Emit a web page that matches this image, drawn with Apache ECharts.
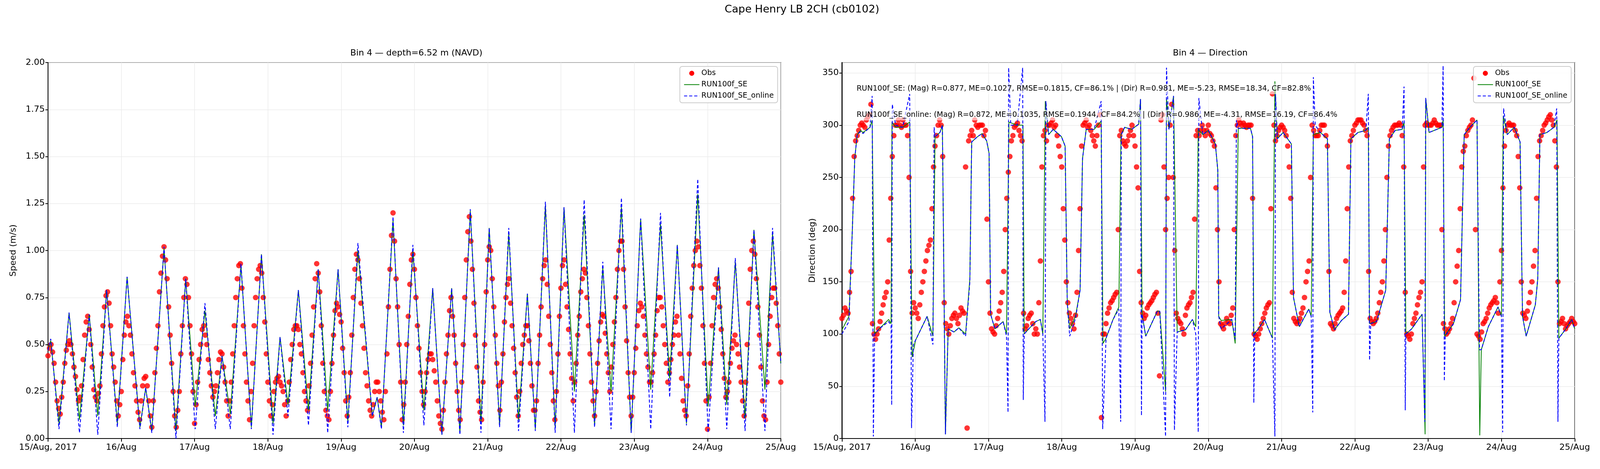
<!DOCTYPE html>
<html>
<head>
<meta charset="utf-8">
<script src="https://cdn.jsdelivr.net/npm/echarts@6/dist/echarts.min.js"></script>
<style>
  html, body { margin: 0; padding: 0; background: #fff; overflow: hidden; }
</style>
</head>
<body>
<div id="chart"></div>
<script>
// hours since 15/Aug 2017 00:00
const dayLabels = ['15/Aug, 2017', '16/Aug', '17/Aug', '18/Aug', '19/Aug', '20/Aug', '21/Aug', '22/Aug', '23/Aug', '24/Aug', '25/Aug'];

const obsSpeed = [
  0.44,0.5,0.4,0.2,0.13,0.3,0.47,0.52,0.45,0.33,0.2,0.28,0.55,0.65,0.5,0.26,0.2,0.28,0.6,0.76,0.72,0.45,0.3,0.12,
  0.25,0.55,0.65,0.55,0.35,0.2,0.1,0.28,0.33,0.2,0.06,0.35,0.6,0.88,1.02,0.85,0.55,0.25,0.06,0.25,0.6,0.85,0.75,0.45,
  0.08,0.3,0.5,0.6,0.5,0.35,0.22,0.28,0.42,0.45,0.3,0.12,0.3,0.6,0.85,0.93,0.6,0.3,0.1,0.4,0.75,0.9,0.88,0.62,
  0.3,0.12,0.25,0.32,0.3,0.25,0.12,0.3,0.5,0.6,0.58,0.45,0.25,0.15,0.4,0.7,0.93,0.78,0.4,0.15,0.1,0.4,0.68,0.7,
  0.62,0.35,0.12,0.35,0.75,0.98,0.85,0.6,0.35,0.2,0.12,0.25,0.3,0.2,0.1,0.45,0.9,1.2,0.85,0.5,0.1,0.3,0.65,0.95,
  0.9,0.6,0.35,0.18,0.35,0.45,0.42,0.3,0.12,0.05,0.3,0.55,0.75,0.55,0.25,0.1,0.5,0.95,1.18,0.9,0.55,0.2,0.1,0.5,
  0.95,1.0,0.7,0.4,0.15,0.45,0.75,0.85,0.6,0.35,0.12,0.4,0.55,0.6,0.4,0.15,0.2,0.55,0.85,0.95,0.65,0.35,0.1,0.45,
  0.8,0.95,0.7,0.45,0.2,0.4,0.65,0.85,0.88,0.6,0.3,0.12,0.4,0.62,0.65,0.45,0.25,0.5,0.75,1.0,1.05,0.7,0.35,0.12,
  0.35,0.6,0.72,0.65,0.45,0.3,0.35,0.55,0.75,0.7,0.5,0.3,0.42,0.55,0.65,0.45,0.2,0.12,0.45,0.8,1.0,1.02,0.8,0.4,
  0.05,0.4,0.75,0.85,0.7,0.45,0.22,0.3,0.48,0.55,0.45,0.3,0.12,0.5,0.9,1.05,0.85,0.55,0.2,0.1,0.5,0.75,0.8,0.6,0.3
];

// half-hour readings (t = i + 0.5)
const obsSpeedHalf = [
  0.48,0.46,0.3,0.16,0.22,0.4,0.5,0.5,0.38,0.26,0.22,0.42,0.62,0.58,0.38,0.22,0.24,0.45,0.7,0.78,0.6,0.38,0.2,0.18,
  0.42,0.62,0.6,0.45,0.28,0.14,0.2,0.32,0.28,0.12,0.2,0.48,0.78,0.97,0.95,0.7,0.4,0.12,0.15,0.45,0.75,0.82,0.6,0.25,
  0.18,0.42,0.58,0.55,0.42,0.28,0.25,0.35,0.46,0.38,0.2,0.2,0.45,0.75,0.92,0.8,0.45,0.2,0.25,0.6,0.85,0.92,0.75,0.45,
  0.2,0.18,0.3,0.33,0.28,0.18,0.2,0.42,0.58,0.6,0.5,0.35,0.2,0.28,0.55,0.85,0.88,0.6,0.25,0.12,0.25,0.55,0.72,0.66,
  0.48,0.2,0.22,0.55,0.9,0.95,0.72,0.48,0.28,0.15,0.18,0.3,0.25,0.14,0.25,0.7,1.08,1.05,0.7,0.3,0.18,0.5,0.82,0.98,
  0.75,0.48,0.25,0.25,0.42,0.45,0.36,0.2,0.08,0.15,0.45,0.68,0.65,0.4,0.15,0.3,0.75,1.1,1.05,0.72,0.38,0.14,0.3,0.78,
  1.02,0.85,0.55,0.28,0.3,0.62,0.82,0.72,0.48,0.22,0.25,0.5,0.6,0.52,0.28,0.15,0.4,0.7,0.92,0.82,0.5,0.2,0.25,0.65,
  0.92,0.82,0.58,0.32,0.3,0.55,0.78,0.9,0.75,0.45,0.2,0.25,0.52,0.66,0.56,0.35,0.38,0.62,0.9,1.05,0.9,0.52,0.22,0.22,
  0.48,0.68,0.7,0.55,0.38,0.3,0.45,0.68,0.75,0.6,0.4,0.35,0.5,0.62,0.55,0.32,0.15,0.28,0.65,0.92,1.05,0.92,0.6,0.2,
  0.22,0.6,0.82,0.8,0.58,0.32,0.25,0.4,0.52,0.5,0.38,0.2,0.3,0.72,1.0,0.98,0.7,0.38,0.12,0.3,0.65,0.8,0.72,0.45
];

const speedSE = [
  [0,.47],[0.9,.52],[3.6,.08],[6.9,.67],[10.3,.1],[13.5,.66],[16.3,.12],[19.2,.79],[22.7,.08],[25.9,.86],
  [30.1,.06],[32,.27],[34,.04],[38,1.01],[41.9,.04],[45.1,.85],[48.2,.17],[51.4,.68],[54.8,.12],[57,.44],
  [59.7,.13],[63.2,.92],[66.6,.06],[69.9,.98],[73.7,.08],[76,.54],[78.6,.18],[82,.79],[85.3,.15],[88.5,.9],
  [91.6,.15],[95,.9],[98.2,.09],[101.5,1.0],[106.2,.12],[107.8,.22],[109.2,.06],[113,1.16],[116.4,.07],[119.5,1.0],
  [123.1,.15],[126,.8],[129,.02],[132.2,.8],[134.9,.03],[138.3,1.21],[141.8,.09],[144.5,1.12],[147.9,.07],[150.9,1.09],
  [154.1,.1],[157,.77],[159.6,.05],[162.9,1.24],[166.1,.06],[169,1.23],[172.4,.25],[175.6,1.19],[179,.07],[181.7,.91],
  [184.4,.25],[187.8,1.23],[191,.03],[194.1,1.17],[197.4,.26],[200.6,1.14],[203.6,.32],[206.1,1.03],[209.1,.08],[212.8,1.3],
  [216.2,.17],[219.6,.91],[222.3,.18],[225.1,.94],[228.3,.11],[231.2,1.11],[234.8,.26],[237.3,1.09],[240,.4]
];

const speedOnline = [
  [0,.47],[0.9,.53],[3.6,.05],[6.9,.67],[10.3,.03],[13.5,.66],[16.3,.02],[19.2,.79],[22.7,.06],[25.9,.86],
  [30.1,.05],[32,.27],[34,.03],[38,1.02],[41.9,0],[45.1,.85],[48.2,.05],[51.4,.72],[54.8,.05],[57,.44],
  [59.7,.05],[63.2,.93],[66.6,.05],[69.9,.98],[73.7,.02],[76,.54],[78.6,.12],[82,.79],[85.3,.07],[88.5,.9],
  [91.6,.03],[95,.9],[98.2,.06],[101.5,1.04],[106.2,.12],[107.8,.22],[109.2,.05],[113,1.18],[116.4,.03],[119.5,1.03],
  [123.1,.07],[126,.8],[129,.02],[132.2,.8],[134.9,.02],[138.3,1.22],[141.8,.03],[144.5,1.12],[147.9,.06],[150.9,1.12],
  [154.1,.04],[157,.77],[159.6,.04],[162.9,1.26],[166.1,.03],[169,1.23],[172.4,.03],[175.6,1.27],[179,.06],[181.7,.94],
  [184.4,.05],[187.8,1.28],[191,.03],[194.1,1.17],[197.4,.05],[200.6,1.2],[203.6,.22],[206.1,1.03],[209.1,.07],[212.8,1.38],
  [216.2,.03],[219.6,.91],[222.3,.05],[225.1,.96],[228.3,.04],[231.2,1.11],[234.8,.04],[237.3,1.12],[240,.4]
];

const obsDir = [
  115,125,120,160,270,290,300,300,305,310,110,95,105,120,135,150,230,290,300,300,305,300,250,120,
  125,115,140,160,180,190,260,290,305,270,110,100,115,120,110,125,120,10,290,290,300,300,300,295,
  150,105,100,115,130,160,230,270,290,300,295,285,105,115,120,100,100,170,290,285,300,305,300,280,
  260,190,130,115,105,140,220,300,305,300,290,280,300,20,100,120,130,135,140,290,285,280,290,300,
  280,240,130,115,125,130,135,140,60,310,200,250,320,180,115,110,100,125,130,140,290,290,300,290,
  300,290,280,200,110,105,115,110,125,290,305,300,300,300,300,100,95,105,115,125,130,330,285,295,
  300,295,280,230,115,110,115,125,150,170,300,290,290,300,300,280,110,105,115,120,125,170,260,290,
  300,305,305,300,290,115,110,115,130,150,200,280,295,300,300,300,260,100,95,110,120,135,150,300,
  300,300,305,300,300,110,100,105,115,150,180,260,280,295,300,345,100,95,110,115,125,130,135,120,
  180,280,300,300,300,290,240,120,115,130,150,180,270,290,300,305,310,300,260,110,115,105,110,115,110
];

// half-hour readings (t = i + 0.5)
const obsDirHalf = [
  118,122,140,230,285,295,302,298,308,320,100,100,112,128,140,190,270,300,305,298,300,290,160,130,
  120,128,150,170,185,220,280,300,300,130,105,108,118,115,118,122,260,285,295,305,298,300,290,210,
  120,102,108,122,140,200,255,285,298,302,290,120,108,118,110,105,130,260,295,300,302,298,290,270,
  220,150,120,110,118,180,280,302,298,295,285,290,310,100,110,125,132,138,200,295,282,285,295,290,
  260,160,120,118,128,132,138,120,305,260,230,300,250,120,112,105,118,128,135,210,295,295,295,295,
  292,285,240,150,108,110,112,118,200,300,302,302,298,300,230,98,100,110,120,128,220,300,290,298,
  298,290,260,140,112,112,120,135,160,250,295,290,295,300,290,160,108,110,118,122,140,220,285,295,
  302,305,302,295,160,112,112,120,140,170,250,290,298,300,302,290,140,98,100,115,128,140,260,302,
  300,302,302,300,200,105,102,110,130,165,220,275,290,298,305,200,98,102,112,120,128,132,130,150,
  240,295,302,300,295,270,150,118,122,140,165,230,285,295,302,308,305,285,150,112,110,108,112,112
];

const dirSE = [
  [0,104],[2.3,117],[3.4,199],[4.2,268],[5,291],[6.1,295],[6.9,293],[9.2,298],[9.9,305],[10.7,100],[12.2,105],[15.3,114],[16.1,110],
  [16.4,303],[17.6,298],[19.9,298],[22.2,303],[23,78],[24.1,94],[27.9,117],[29.8,98],[30.5,289],[32.1,293],[32.9,300],[33.9,4],
  [34.8,105],[36.7,102],[38.3,106],[40.5,100],[41.9,153],[42.5,284],[44.4,289],[45.9,292],[47.4,285],[48.2,273],[48.7,119],[50.1,105],
  [52.8,112],[53.9,100],[54.7,303],[57.4,300],[59.3,300],[59.7,100],[61.2,105],[63.5,112],[65,114],[65.8,100],[66.6,323],[67.7,291],
  [69.2,296],[71.9,289],[73.1,280],[73.8,130],[74.6,105],[76.5,117],[78,142],[78.8,268],[80,296],[82.6,296],[84.9,304],[85.5,91],
  [86.5,96],[88.8,114],[90.7,126],[91.4,291],[92.6,298],[94.9,296],[97.2,301],[97.8,325],[98.3,119],[99.5,98],[103.3,122],[104.1,122],
  [106,45],[106.3,326],[107.1,296],[108.6,328],[109.8,102],[112.5,104],[114.8,114],[115.9,107],[116.7,296],[118.2,291],[120,295],
  [122.3,282],[123.1,257],[123.4,117],[124.2,113],[127.7,114],[128.8,91],[129.8,297],[133.8,297],[134.5,289],[134.9,100],[136.4,105],
  [138.4,114],[141,96],[141.8,342],[142.6,287],[144.5,293],[147.2,282],[147.9,135],[149.8,107],[152.9,124],[153.7,117],[154.4,291],
  [156.7,293],[159,287],[159.8,121],[161.3,104],[163.6,113],[165.9,119],[166.7,287],[169,293],[171.6,295],[172.4,298],[172.8,110],
  [175.1,112],[178.1,142],[179.3,287],[181.2,295],[183.5,296],[184.1,303],[184.7,100],[186.6,105],[190,119],[191,4],[191.2,326],
  [192.3,293],[196.5,298],[196.9,305],[197.4,98],[200.3,110],[202.6,133],[203.8,291],[205.7,298],[208,305],[208.9,3],[209.4,85],
  [211.7,107],[214.9,126],[216,117],[216.6,309],[217.9,291],[220.2,298],[222.1,284],[222.9,117],[224.1,98],[227.1,128],[227.9,153],
  [228.6,291],[230.9,293],[233.2,298],[234.2,305],[234.8,96],[237.1,105],[239,114],[240,105]
];

const dirOnline = [
  [0,100],[2.3,112],[3.4,199],[4.2,268],[5,291],[6.1,294],[6.9,292],[9.2,298],[9.9,328],[10.3,2],[10.7,100],[12.2,105],[15.3,112],
  [16.1,108],[16.3,32],[16.5,320],[17.6,300],[19.9,298],[22.2,330],[22.8,10],[23.4,90],[24.1,94],[27.9,117],[29.8,90],[30.2,298],
  [30.5,289],[32.1,293],[32.9,300],[33.9,4],[34.8,105],[36.7,102],[38.3,106],[40.5,98],[41.9,150],[42.5,284],[44.4,289],[45.9,292],
  [47.4,285],[48.2,273],[48.7,119],[50.1,105],[52.8,112],[53.9,98],[54.4,25],[54.6,355],[55.3,300],[57.4,300],[59.2,355],[59.4,37],
  [59.7,100],[61.2,105],[63.5,112],[65,114],[65.8,100],[66.5,16],[66.8,323],[67.7,291],[69.2,296],[71.9,289],[73.1,280],[73.8,130],
  [74.6,98],[76.5,115],[78,142],[78.8,268],[80,296],[82.6,296],[84.9,323],[85.4,9],[86.5,96],[88.8,114],[90.7,124],[91.3,16],
  [91.5,291],[92.6,298],[94.9,296],[97.2,301],[97.8,325],[98.1,22],[98.3,119],[99.5,98],[103.3,122],[104.1,122],[106,2],[106.3,355],
  [107.1,296],[108.6,328],[108.9,8],[109.8,102],[112.5,104],[114.8,114],[115.9,100],[116.7,6],[116.9,326],[118.2,291],[120,295],
  [122.3,282],[123.1,257],[123.4,117],[124.2,105],[127.7,114],[128.8,95],[129.2,305],[129.8,297],[133.8,297],[134.5,289],[134.9,34],
  [135.2,100],[136.4,105],[138.4,114],[141,96],[141.8,2],[142,330],[142.6,287],[144.5,293],[147.2,282],[147.9,135],[149.8,107],
  [152.9,124],[153.7,117],[154.2,25],[154.4,346],[155,300],[156.7,293],[159,287],[159.8,121],[161.3,104],[163.6,113],[165.9,119],
  [166.7,287],[169,293],[171.6,295],[172.4,330],[172.8,75],[173.2,110],[175.1,112],[178.1,142],[179.3,287],[181.2,295],[183.5,296],
  [184.1,337],[184.5,27],[184.7,100],[186.6,105],[190,119],[190.9,16],[191.2,326],[192.3,293],[196.5,298],[196.9,357],[197.3,55],
  [197.6,98],[200.3,110],[202.6,133],[203.8,291],[205.7,298],[208,305],[208.8,85],[209.4,85],[211.7,107],[214.9,126],[216,117],
  [216.4,6],[216.7,316],[217.9,291],[220.2,298],[222.1,284],[222.9,117],[224.1,98],[227.1,128],[227.9,153],[228.6,291],[230.9,293],
  [233.2,298],[234.1,316],[234.5,16],[234.8,96],[237.1,105],[239,114],[240,105]
];

const statsLines = [
  'RUN100f_SE: (Mag) R=0.877, ME=0.1027, RMSE=0.1815, CF=86.1% | (Dir) R=0.981, ME=-5.23, RMSE=18.34, CF=82.8%',
  'RUN100f_SE_online: (Mag) R=0.872, ME=0.1035, RMSE=0.1944, CF=84.2% | (Dir) R=0.986, ME=-4.31, RMSE=16.19, CF=86.4%'
];

const FONT = 'DejaVu Sans';
// layout measured on a 5000x1200 canvas; stretch it to fill the real window
const W = window.innerWidth, H = window.innerHeight;
const SX = W / 5000, SY = H / 1200;
const px = v => v * SX;   // horizontal sizes
const py = v => v * SY;   // vertical sizes
const pf = v => v * SY;   // font / mark sizes
const el = document.getElementById('chart');
el.style.width = W + 'px';
el.style.height = H + 'px';

const obsPts = (arr, off) => arr.map((v, i) => [i + off, v]);

function xAxisFor(gi) {
  return {
    type: 'value', gridIndex: gi, min: 0, max: 240, interval: 24,
    axisLine: { show: true, lineStyle: { color: '#000', width: pf(2) } },
    axisTick: { show: true, length: py(8), lineStyle: { color: '#000', width: pf(2) } },
    axisLabel: { fontFamily: FONT, fontSize: pf(22), color: '#000', margin: py(12),
      formatter: v => dayLabels[Math.round(v / 24)] },
    splitLine: { show: true, lineStyle: { color: '#ebebeb', width: pf(1.5) } }
  };
}

function yAxisFor(gi, min, max, interval, name, fmt, gap) {
  return {
    type: 'value', gridIndex: gi, min, max, interval,
    name, nameLocation: 'middle', nameGap: px(gap),
    nameTextStyle: { fontFamily: FONT, fontSize: pf(22), color: '#000' },
    axisLine: { show: true, lineStyle: { color: '#000', width: pf(2) } },
    axisTick: { show: true, length: px(8), lineStyle: { color: '#000', width: pf(2) } },
    axisLabel: { fontFamily: FONT, fontSize: pf(22), color: '#000', margin: px(10), formatter: fmt, showMaxLabel: max === 2 },
    splitLine: { show: true, lineStyle: { color: '#ebebeb', width: pf(1.5) } }
  };
}

function legendFor(right) {
  return {
    orient: 'vertical', right: px(right), top: py(170), padding: [py(8), px(12), py(8), px(12)],
    backgroundColor: 'rgba(255,255,255,0.85)', borderColor: '#cccccc', borderWidth: pf(2), borderRadius: pf(6),
    itemWidth: px(48), itemHeight: pf(13), itemGap: py(10),
    itemStyle: { opacity: 0 },
    textStyle: { fontFamily: FONT, fontSize: pf(19), color: '#000' },
    data: [
      { name: 'Obs', icon: 'circle', itemStyle: { color: '#ff0000', opacity: 1 } },
      { name: 'RUN100f_SE' },
      { name: 'RUN100f_SE_online' }
    ]
  };
}

const obsStyle = { color: '#ff0000' };
const lineSE = { color: '#008000', width: pf(2) };
const lineOn = { color: '#0000ff', width: pf(2.2), type: [pf(8), pf(5)] };

function obsSeries(ax, data) {
  return { name: 'Obs', type: 'scatter', xAxisIndex: ax, yAxisIndex: ax, data,
    symbol: 'circle', symbolSize: pf(14), itemStyle: obsStyle, z: 2 };
}
function lineSeries(ax, name, data, style, color, z) {
  return { name, type: 'line', xAxisIndex: ax, yAxisIndex: ax, data,
    showSymbol: false, symbol: 'none', lineStyle: style, itemStyle: { color }, z };
}

const chart = echarts.init(el, null, { renderer: 'canvas' });
chart.setOption({
  animation: false,
  backgroundColor: '#fff',
  title: [
    { text: 'Cape Henry LB 2CH (cb0102)', left: px(2500), textAlign: 'center', top: py(6),
      textStyle: { fontFamily: FONT, fontSize: pf(27), fontWeight: 'normal', color: '#000' } },
    { text: 'Bin 4 \u2014 depth=6.52 m (NAVD)', left: px(1295), textAlign: 'center', top: py(120),
      textStyle: { fontFamily: FONT, fontSize: pf(22), fontWeight: 'normal', color: '#000' } },
    { text: 'Bin 4 \u2014 Direction', left: px(3776), textAlign: 'center', top: py(120),
      textStyle: { fontFamily: FONT, fontSize: pf(22), fontWeight: 'normal', color: '#000' } }
  ],
  grid: [
    { left: px(150), right: px(2560), top: py(160), bottom: py(78), show: true, borderColor: '#000', borderWidth: pf(2) },
    { left: px(2631), right: px(79), top: py(160), bottom: py(78), show: true, borderColor: '#000', borderWidth: pf(2) }
  ],
  legend: [legendFor(2570), legendFor(90)],
  xAxis: [xAxisFor(0), xAxisFor(1)],
  yAxis: [
    yAxisFor(0, 0, 2, 0.25, 'Speed (m/s)', v => v.toFixed(2), 95),
    yAxisFor(1, 0, 360, 50, 'Direction (deg)', v => String(v), 78)
  ],
  series: [
    obsSeries(0, obsPts(obsSpeed, 0).concat(obsPts(obsSpeedHalf, 0.5))),
    lineSeries(0, 'RUN100f_SE', speedSE, lineSE, '#008000', 3),
    lineSeries(0, 'RUN100f_SE_online', speedOnline, lineOn, '#0000ff', 4),
    obsSeries(1, obsPts(obsDir, 0).concat(obsPts(obsDirHalf, 0.5))),
    lineSeries(1, 'RUN100f_SE', dirSE, lineSE, '#008000', 3),
    lineSeries(1, 'RUN100f_SE_online', dirOnline, lineOn, '#0000ff', 4)
  ],
  graphic: statsLines.map((t, i) => ({
    type: 'text', left: px(2672), top: py(214 + i * 67), z: 100,
    style: {
      text: t, fontFamily: FONT, fontSize: pf(19), fill: '#000',
      backgroundColor: 'rgba(255,255,255,0.6)', padding: [pf(4), pf(4)]
    }
  }))
});
</script>
</body>
</html>
